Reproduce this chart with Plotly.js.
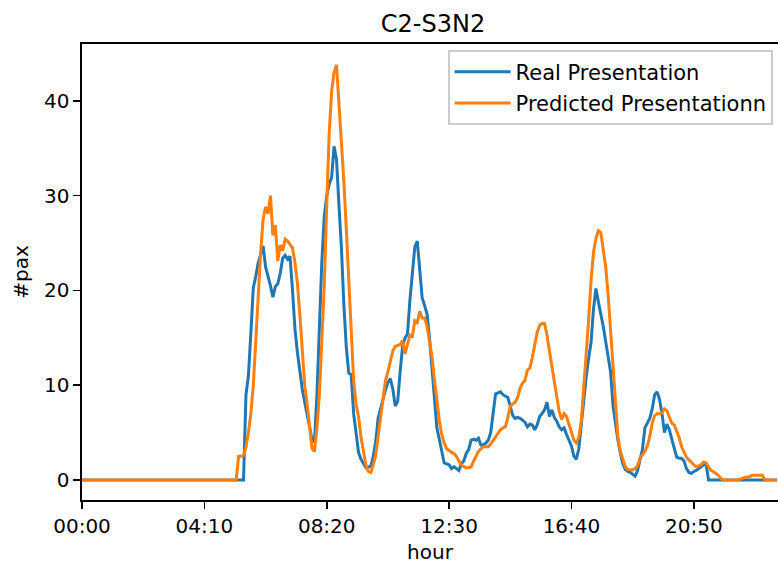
<!DOCTYPE html>
<html>
<head>
<meta charset="utf-8">
<script src="https://cdn.plot.ly/plotly-3.0.1.min.js"></script>
<style>
  html, body { margin: 0; padding: 0; background: #ffffff; overflow: hidden; }
  #chart { width: 778px; height: 565px; }
</style>
</head>
<body>
<div id="chart"></div>
<script>
// Sampling step of the series, in minutes (one value every 5 minutes from 00:00)
const STEP_MIN = 5;

// Real presentation (#pax), one value per 5-minute slot
const realPresentation = [
  0,0,0,0,0,0,0,0,0,0, 0,0,0,0,0,0,0,0,0,0,
  0,0,0,0,0,0,0,0,0,0, 0,0,0,0,0,0,0,0,0,0,
  0,0,0,0,0,0,0,0,0,0, 0,0,0,0,0,0,0,0,0,0,
  0,0,0,0,0,0,0,9.0,11.0,15.5,
  20.3,21.5,22.9,23.8,24.7,22.5,21.6,20.5,19.3,20.4,
  20.7,21.8,23.4,23.7,23.3,23.6,20.1,16.0,13.5,11.5,
  9.6,8.2,6.9,5.5,4.3,4.0,9.0,16.0,23.0,27.8,
  30.0,31.2,31.9,35.2,33.8,29.0,24.5,18.5,14.0,11.3,
  11.1,7.0,5.0,2.9,2.2,1.7,1.3,1.4,1.4,2.5,
  4.0,6.5,7.4,8.5,9.5,10.3,10.7,9.6,7.8,8.3,
  11.4,14.1,15.0,15.4,19.0,21.8,24.6,25.2,22.0,19.2,
  18.4,17.5,15.0,12.0,8.6,5.5,4.3,3.0,1.8,1.7,
  1.6,1.2,1.4,1.2,1.0,1.7,2.0,2.8,3.2,4.2,
  4.3,4.2,4.4,3.7,3.7,3.9,4.2,5.0,7.0,9.1,
  9.2,9.3,9.0,8.8,8.7,7.8,6.8,6.5,6.6,6.5,
  6.3,6.1,5.6,5.9,5.8,5.3,5.8,6.7,7.0,7.4,
  8.2,6.7,7.4,6.6,6.2,5.6,5.3,5.5,4.8,4.2,
  3.6,2.5,2.2,3.3,6.0,8.8,10.8,12.8,14.5,18.0,
  20.2,18.8,17.6,16.2,14.6,13.0,11.4,7.8,5.8,4.2,
  2.8,1.7,1.1,0.9,0.8,0.6,0.4,1.0,2.0,3.2,
  5.5,6.0,6.5,7.5,9.0,9.3,8.5,7.0,5.0,5.9,
  5.3,4.3,3.3,2.4,2.3,2.3,2.0,1.2,0.8,0.7,
  0.9,1.0,1.2,1.4,1.6,1.7,0,0,0,0,
  0,0,0,0,0,0,0,0,0,0,
  0,0,0,0,0,0,0,0,0,0,
  0,0,0,0,0
];

// Predicted presentation (#pax), one value per 5-minute slot
const predictedPresentation = [
  0,0,0,0,0,0,0,0,0,0, 0,0,0,0,0,0,0,0,0,0,
  0,0,0,0,0,0,0,0,0,0, 0,0,0,0,0,0,0,0,0,0,
  0,0,0,0,0,0,0,0,0,0, 0,0,0,0,0,0,0,0,0,0,
  0,0,0,0,2.5,2.5,2.6,3.5,5.0,7.0,
  10.0,15.0,19.5,24.0,27.5,28.8,28.1,30.0,25.8,26.9,
  23.1,24.8,24.2,25.4,25.2,24.8,24.5,23.0,20.8,17.5,
  13.6,10.0,8.0,5.8,3.3,3.0,5.5,9.0,14.5,20.5,
  29.0,36.5,41.0,43.0,43.8,40.0,35.5,31.5,26.5,21.0,
  16.5,10.5,8.0,6.7,4.5,3.0,1.6,0.9,0.8,1.6,
  2.6,4.6,6.6,8.5,10.5,11.4,12.6,13.6,14.1,14.2,
  14.3,14.7,13.3,14.3,15.3,15.2,16.8,16.6,17.8,17.1,
  17.1,16.2,14.6,13.0,10.6,8.3,6.3,4.8,3.9,3.3,
  3.1,2.9,2.8,2.5,2.0,1.6,1.4,1.3,1.3,1.4,
  2.0,2.6,3.0,3.3,3.5,3.5,3.5,3.8,4.2,4.5,
  4.9,5.3,5.5,5.6,6.6,7.8,8.0,8.2,8.7,9.7,
  10.2,10.5,11.6,11.8,12.9,14.2,15.6,16.3,16.5,16.5,
  15.3,13.6,12.0,10.5,8.6,7.2,6.4,7.0,6.7,5.9,
  4.9,4.2,3.9,4.5,6.2,9.6,13.0,16.8,21.0,24.0,
  25.5,26.3,26.1,24.5,22.5,19.5,16.0,12.5,8.5,4.5,
  3.0,2.2,1.4,1.1,1.05,1.05,1.2,1.5,2.3,2.7,
  3.0,3.6,4.6,6.0,6.8,7.0,7.0,7.1,7.5,7.3,
  6.6,6.0,5.8,5.2,4.5,3.5,2.9,2.4,2.1,1.9,
  1.6,1.4,1.5,1.6,1.9,1.8,1.4,1.0,0.9,0.7,
  0.5,0.2,0,0,0,0,0,0,0,0.1,
  0.2,0.3,0.3,0.4,0.5,0.5,0.5,0.5,0.5,0,
  0,0,0,0,0
];

// X tick positions (minutes after midnight) and their labels
const tickMinutes = [0, 250, 500, 750, 1000, 1250];
const tickLabels = ["00:00", "04:10", "08:20", "12:30", "16:40", "20:50"];
const yTicks = [0, 10, 20, 30, 40];

const seriesNames = ["Real Presentation", "Predicted Presentationn"];
const chartTitle = "C2-S3N2";
const xLabel = "hour";
const yLabel = "#pax";

const timeMinutes = realPresentation.map((_, i) => i * STEP_MIN);

const FONT = "DejaVu Sans, Liberation Sans, sans-serif";

const traces = [
  {
    x: timeMinutes, y: realPresentation, type: "scatter", mode: "lines",
    name: seriesNames[0], legendgroup: "a",
    line: { color: "#1f77b4", width: 3 }
  },
  {
    x: timeMinutes, y: predictedPresentation, type: "scatter", mode: "lines",
    name: seriesNames[1], legendgroup: "b",
    line: { color: "#ff7f0e", width: 3 }
  }
];

const layout = {
  width: 778,
  height: 565,
  margin: { l: 82, r: 0, t: 44, b: 65, pad: 0 },
  paper_bgcolor: "#ffffff",
  plot_bgcolor: "#ffffff",
  font: { family: FONT, size: 20, color: "#000000" },
  showlegend: true,
  title: {
    text: chartTitle,
    font: { family: FONT, size: 24, color: "#000000" },
    xref: "container", yref: "container",
    x: 433 / 778, xanchor: "center",
    y: 1 - 24 / 565, yanchor: "middle"
  },
  xaxis: {
    range: [0, 1422],
    tickmode: "array",
    tickvals: tickMinutes,
    ticktext: tickLabels,
    ticks: "outside",
    ticklen: 7,
    tickwidth: 1.6,
    tickcolor: "#000000",
    tickfont: { family: FONT, size: 20, color: "#000000" },
    showline: true,
    linecolor: "#000000",
    linewidth: 1.6,
    mirror: true,
    showgrid: false,
    zeroline: false,
    title: { text: xLabel, font: { family: FONT, size: 20, color: "#000000" }, standoff: 8 }
  },
  yaxis: {
    range: [-2.11, 46.0],
    tickmode: "array",
    tickvals: yTicks,
    ticktext: yTicks.map(String),
    ticks: "outside",
    ticklen: 7,
    tickwidth: 1.6,
    tickcolor: "#000000",
    tickfont: { family: FONT, size: 20, color: "#000000" },
    showline: true,
    linecolor: "#000000",
    linewidth: 1.6,
    mirror: false,
    showgrid: false,
    zeroline: false,
    title: { text: yLabel, font: { family: FONT, size: 20, color: "#000000" }, standoff: 10 }
  },
  legend: {
    x: (448 - 82) / 696, xanchor: "left",
    y: (500 - 50) / 456, yanchor: "top",
    bgcolor: "rgba(255,255,255,0.8)",
    bordercolor: "#cccccc",
    borderwidth: 1.6,
    font: { family: FONT, size: 21, color: "#000000" },
    itemwidth: 56,
    traceorder: "grouped",
    tracegroupgap: 1
  }
};

Plotly.newPlot("chart", traces, layout, { displayModeBar: false, staticPlot: true });
</script>
</body>
</html>
